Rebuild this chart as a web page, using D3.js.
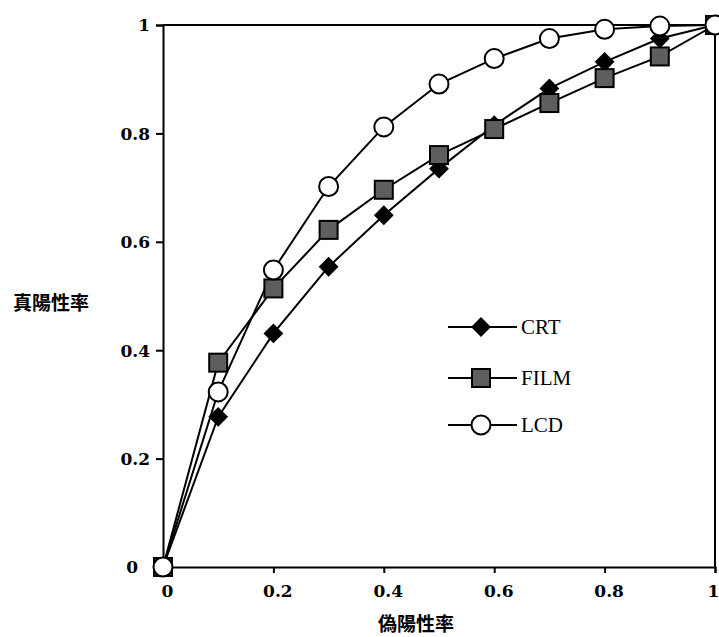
<!DOCTYPE html>
<html>
<head>
<meta charset="utf-8">
<script src="https://cdn.jsdelivr.net/npm/d3@7"></script>
<style>
  body { margin: 0; background: #fff; }
</style>
</head>
<body>
<div id="wrapper"></div>
<script>
// data
const fpr = [0, 0.1, 0.2, 0.3, 0.4, 0.5, 0.6, 0.7, 0.8, 0.9, 1];
const crtValues = [0, 0.277, 0.431, 0.554, 0.649, 0.735, 0.815, 0.883, 0.932, 0.975, 1];
const filmValues = [0, 0.377, 0.514, 0.622, 0.696, 0.760, 0.808, 0.856, 0.902, 0.942, 1];
const lcdValues = [0, 0.323, 0.548, 0.702, 0.812, 0.891, 0.938, 0.975, 0.992, 0.998, 1];
const seriesNames = ["CRT", "FILM", "LCD"];
const tickValues = [0, 0.2, 0.4, 0.6, 0.8, 1];
const tickLabels = ["0", "0.2", "0.4", "0.6", "0.8", "1"];

function drawRocChart() {
  let dimensions = {
    width: 719,
    height: 637,
    margin: { top: 25, right: 4, bottom: 70, left: 163 },
  };
  dimensions.boundedWidth = dimensions.width - dimensions.margin.left - dimensions.margin.right;
  dimensions.boundedHeight = dimensions.height - dimensions.margin.top - dimensions.margin.bottom;

  const wrapper = d3.select("#wrapper")
    .append("svg")
    .attr("width", dimensions.width)
    .attr("height", dimensions.height);

  const bounds = wrapper.append("g")
    .attr("transform", `translate(${dimensions.margin.left},${dimensions.margin.top})`);

  const xScale = d3.scaleLinear().domain([0, 1]).range([0, dimensions.boundedWidth]);
  const yScale = d3.scaleLinear().domain([0, 1]).range([dimensions.boundedHeight, 0]);

  const tickFont = "DejaVu Serif";

  // frame (top + right)
  bounds.append("path")
    .attr("d", `M0,0H${dimensions.boundedWidth}V${dimensions.boundedHeight}`)
    .attr("fill", "none")
    .attr("stroke", "#000")
    .attr("stroke-width", 2);

  // Y axis
  const yAxis = bounds.append("g")
    .call(d3.axisLeft(yScale).tickValues(tickValues).tickSize(7).tickFormat((d, i) => tickLabels[i]));
  yAxis.select(".domain").attr("stroke-width", 2);
  yAxis.selectAll(".tick line").attr("stroke-width", 2);
  yAxis.selectAll(".tick text")
    .attr("x", (d) => (d === 0 ? -25 : -13))
    .attr("dy", "0.35em")
    .style("font-family", tickFont)
    .style("font-weight", "bold")
    .style("font-size", "17px")
    .attr("fill", "#000");

  // X axis
  const xAxis = bounds.append("g")
    .attr("transform", `translate(0,${dimensions.boundedHeight})`)
    .call(d3.axisBottom(xScale).tickValues(tickValues).tickSize(6).tickFormat((d, i) => tickLabels[i]));
  xAxis.select(".domain").attr("stroke-width", 2);
  xAxis.selectAll(".tick line").attr("stroke-width", 2);
  xAxis.selectAll(".tick text")
    .attr("y", 24)
    .attr("dx", (d) => (d === 1 ? -2 : 4))
    .attr("dy", "0.35em")
    .style("font-family", tickFont)
    .style("font-weight", "bold")
    .style("font-size", "17px")
    .attr("fill", "#000");

  // axis titles
  wrapper.append("text")
    .attr("x", 51)
    .attr("y", 301)
    .attr("text-anchor", "middle")
    .attr("dominant-baseline", "central")
    .style("font-family", "Noto Sans CJK TC")
    .style("font-weight", "bold")
    .style("font-size", "19px")
    .text("真陽性率");

  wrapper.append("text")
    .attr("x", 416)
    .attr("y", 631)
    .attr("text-anchor", "middle")
    .style("font-family", "Noto Sans CJK TC")
    .style("font-weight", "bold")
    .style("font-size", "19px")
    .text("偽陽性率");

  const lineGenerator = (vals) => d3.line()
    .x((d, i) => xScale(fpr[i]))
    .y((d) => yScale(d))(vals);

  const squareFill = "#5e5e5e";

  function drawMarker(g, type, x, y) {
    if (type === "CRT") {
      g.append("path")
        .attr("d", d3.symbol().type(d3.symbolDiamond2).size(250)())
        .attr("transform", `translate(${x},${y})`)
        .attr("fill", "#000");
    } else if (type === "FILM") {
      g.append("rect")
        .attr("x", x - 9).attr("y", y - 9)
        .attr("width", 18).attr("height", 18)
        .attr("fill", squareFill)
        .attr("stroke", "#000")
        .attr("stroke-width", 2);
    } else {
      g.append("circle")
        .attr("cx", x).attr("cy", y)
        .attr("r", 9.5)
        .attr("fill", "#fff")
        .attr("stroke", "#000")
        .attr("stroke-width", 2);
    }
  }

  const allSeries = [crtValues, filmValues, lcdValues];

  allSeries.forEach((vals) => {
    bounds.append("path")
      .attr("d", lineGenerator(vals))
      .attr("fill", "none")
      .attr("stroke", "#000")
      .attr("stroke-width", 2);
  });

  allSeries.forEach((vals, s) => {
    const g = bounds.append("g");
    vals.forEach((v, i) => drawMarker(g, seriesNames[s], xScale(fpr[i]), yScale(v)));
  });

  // legend
  const legend = wrapper.append("g");
  const legendY = [327, 378, 425];
  seriesNames.forEach((name, i) => {
    legend.append("line")
      .attr("x1", 448).attr("x2", 517)
      .attr("y1", legendY[i]).attr("y2", legendY[i])
      .attr("stroke", "#000")
      .attr("stroke-width", 2);
    drawMarker(legend, name, 481, legendY[i]);
    legend.append("text")
      .attr("x", 521)
      .attr("y", legendY[i] + 7)
      .style("font-family", "Liberation Serif")
      .style("font-size", "21px")
      .text(name);
  });
}

drawRocChart();
</script>
</body>
</html>
